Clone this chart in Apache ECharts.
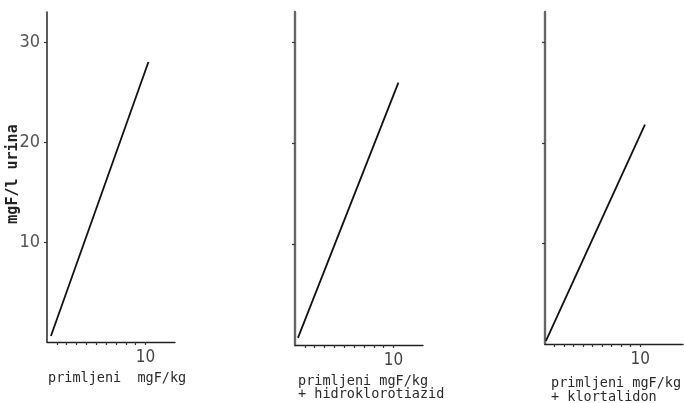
<!DOCTYPE html>
<html>
<head>
<meta charset="utf-8">
<script src="https://cdn.jsdelivr.net/npm/echarts@6/dist/echarts.min.js"></script>
<style>
html,body{margin:0;padding:0;background:#fff;}
#c{width:684px;height:403px;}
</style>
</head>
<body>
<div id="c"></div>
<script>
// ---- data ----
const yTickValues = [10, 20, 30];
const yTickLabels = ['10', '20', '30'];
const xTickValues = [1, 2, 3, 4, 5, 6, 7, 8, 9, 10];
const xLabelValues = [10];

const panel1X = [0.4, 10.3];
const panel1Y = [0.6, 28.0];
const panel2X = [0.3, 10.5];
const panel2Y = [0.7, 26.0];
const panel3X = [0.1, 10.5];
const panel3Y = [0.3, 21.8];

const xTitles = [
  ['primljeni  mgF/kg'],
  ['primljeni mgF/kg', '+ hidroklorotiazid'],
  ['primljeni mgF/kg', '+ klortalidon']
];
const yTitle = 'mgF/l urina';

const pairs = (xs, ys) => xs.map((x, i) => [x, ys[i]]);

// ---- layout ----
const grids = [
  {left: 47, top: 12, width: 128, height: 330},
  {left: 295, top: 12, width: 128, height: 333},
  {left: 545, top: 12, width: 138, height: 332}
];
const xMax = [13, 13, 14.5];
const yAxisLineStyle = [
  {color: '#333', width: 1.6},
  {color: '#666', width: 2.4},
  {color: '#666', width: 2.4}
];
const numFont = "'Liberation Sans Narrow', 'DejaVu Sans Condensed', 'Roboto', sans-serif";

const chart = echarts.init(document.getElementById('c'), null, {renderer: 'canvas'});

const xAxes = grids.map((g, i) => ({
  type: 'value', gridIndex: i, min: 0, max: xMax[i],
  axisLine: {show: true, onZero: false, lineStyle: {color: '#222', width: 1.4}},
  axisTick: {show: true, length: 3, customValues: xTickValues, lineStyle: {color: '#333', width: 1.2}},
  axisLabel: {show: true, customValues: xLabelValues, margin: 7,
    fontFamily: numFont, fontWeight: 300,
    fontSize: 17, color: '#444', formatter: v => String(v)},
  splitLine: {show: false}
}));

const yAxes = grids.map((g, i) => ({
  type: 'value', gridIndex: i, min: 0, max: 33,
  axisLine: {show: true, onZero: false, lineStyle: yAxisLineStyle[i]},
  axisTick: {show: true, length: 3, customValues: yTickValues, lineStyle: {color: '#333', width: 1.2}},
  axisLabel: {show: i === 0, customValues: yTickValues, margin: 7,
    fontFamily: numFont, fontWeight: 300,
    fontSize: 18, color: '#555',
    formatter: v => yTickLabels[yTickValues.indexOf(v)] || ''},
  splitLine: {show: false}
}));

const series = [pairs(panel1X, panel1Y), pairs(panel2X, panel2Y), pairs(panel3X, panel3Y)].map((d, i) => ({
  type: 'line', xAxisIndex: i, yAxisIndex: i, data: d,
  showSymbol: false, symbol: 'none', animation: false,
  lineStyle: {color: '#111', width: 1.8}
}));

const titlePos = [
  {x: 48, ys: [378]},
  {x: 298, ys: [381, 394]},
  {x: 551, ys: [383, 397]}
];
const graphics = [];
xTitles.forEach((lines, i) => {
  lines.forEach((t, j) => {
    graphics.push({
      type: 'text', x: titlePos[i].x, y: titlePos[i].ys[j],
      style: {text: t, fill: '#2a2a2a', font: "13.5px 'DejaVu Sans Mono', monospace",
        textAlign: 'left', textVerticalAlign: 'middle'}
    });
  });
});
graphics.push({
  type: 'text', x: 13, y: 174, rotation: Math.PI / 2,
  style: {text: yTitle, fill: '#222', font: "bold 15px 'DejaVu Sans Mono', monospace",
    textAlign: 'center', textVerticalAlign: 'middle'}
});

chart.setOption({
  animation: false,
  backgroundColor: '#fff',
  grid: grids.map(g => Object.assign({containLabel: false}, g)),
  xAxis: xAxes,
  yAxis: yAxes,
  series: series,
  graphic: graphics
});
</script>
</body>
</html>
